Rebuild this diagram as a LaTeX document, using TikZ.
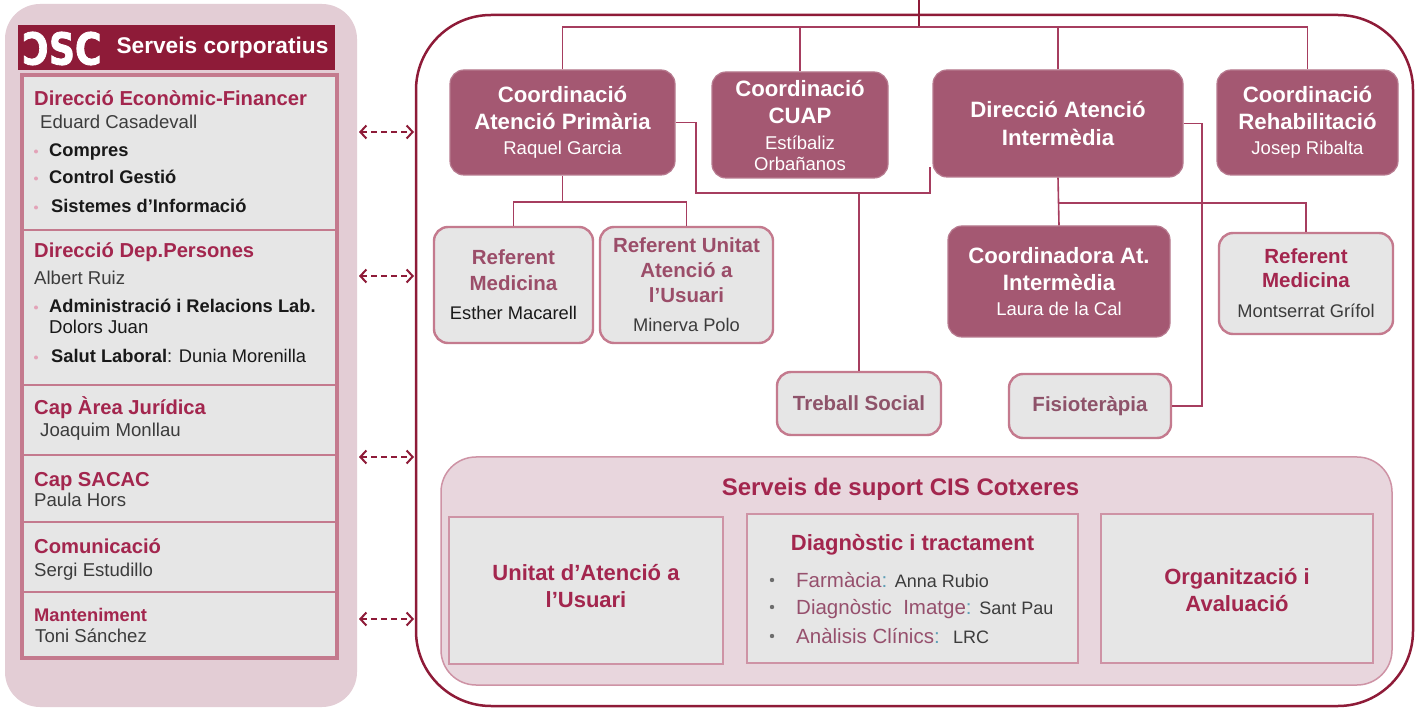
\documentclass[tikz,border=0pt]{standalone}
\usepackage{fontspec}
\usepackage{graphicx}
\setmainfont{Liberation Sans}
\newfontfamily\logofont{DejaVu Sans}[BoldFeatures={FakeBold=2}]
\usetikzlibrary{arrows.meta}
\definecolor{cDark}{HTML}{8E1B38}
\definecolor{cCrim}{HTML}{A3264E}
\definecolor{cMauve}{HTML}{A45872}
\definecolor{cMauveB}{HTML}{B77A8F}
\definecolor{cPinkBg}{HTML}{E3CDD5}
\definecolor{cPinkBgB}{HTML}{E8D6DD}
\definecolor{cGrey}{HTML}{E6E6E6}
\definecolor{cBord}{HTML}{C47A8E}
\definecolor{cBordL}{HTML}{CE93A5}
\definecolor{cConn}{HTML}{A63D5F}
\definecolor{cRefTxt}{HTML}{9B4D69}
\definecolor{cSoft}{HTML}{8E536A}
\definecolor{cName}{HTML}{3C3C3C}
\definecolor{cBul}{HTML}{E3A3B8}
\definecolor{cColon}{HTML}{5E9FB7}
\definecolor{cLab}{HTML}{96506D}
\newcommand\fsz[2]{\fontsize{#1}{#2}\selectfont}
\begin{document}
\begin{tikzpicture}[x=1pt,y=-1pt,
  dbox/.style={fill=cMauve, draw=cMauveB, line width=1.2pt, rounded corners=14pt, text=white, align=center, inner sep=0pt, font=\fsz{22.2}{27}},
  gbox/.style={fill=cGrey, draw=cBord, line width=2.4pt, rounded corners=14pt, align=center, inner sep=0pt, font=\fsz{20.5}{25}},
  sbox/.style={fill=cGrey, draw=cBordL, line width=1.5pt, inner sep=0pt},
  conn/.style={draw=cConn, line width=1.6pt},
  sepline/.style={draw=cBord, line width=1.3pt},
  dasharrow/.style={draw=cDark, line width=2pt, dash pattern=on 6pt off 4pt,
     arrows={Straight Barb[length=6pt,width=13pt,line width=2pt]-Straight Barb[length=6pt,width=13pt,line width=2pt]}},
  lh/.style={anchor=base west, inner sep=0pt, font=\bfseries\fsz{20.2}{24}, text=cCrim},
  ln/.style={anchor=base west, inner sep=0pt, font=\fsz{18.6}{22}, text=cName},
  li/.style={anchor=base west, inner sep=0pt, font=\bfseries\fsz{18.3}{22}, text=black!90},
  bul/.style={circle, fill=cBul, minimum size=4pt, inner sep=0pt},
  dbul/.style={circle, fill=cName!75, minimum size=4.4pt, inner sep=0pt},
  blab/.style={anchor=base west, inner sep=0pt, font=\fsz{20.5}{24}, text=cLab},
]
\fill[white] (0,0) rectangle (1425,708);
\useasboundingbox (0,0) rectangle (1425,708);

% ---------- left panel ----------
\node[fill=cPinkBg, rounded corners=35pt, minimum width=352, minimum height=703, inner sep=0pt] (lp) at (181,355.5) {};
\node[fill=cDark, minimum width=317, minimum height=45, inner sep=0pt] (hdr) at (176.5,47.5) {};
\node[font=\logofont\bfseries\fsz{44}{44}, text=white, inner sep=0pt] (logo) at (62,48.5) {\scalebox{0.82}[1]{ƆSC}};
\node[anchor=base, font=\bfseries\fsz{22.7}{25}, text=white, inner sep=0pt] (hdrt) at (222.5,53.5) {Serveis corporatius};
\node[fill=cGrey, draw=cBord, line width=3.5pt, minimum width=315, minimum height=583, inner sep=0pt] (inner) at (179.5,366.5) {};
\draw[sepline] (22,230) -- (337,230);
\draw[sepline] (22,385) -- (337,385);
\draw[sepline] (22,455) -- (337,455);
\draw[sepline] (22,522) -- (337,522);
\draw[sepline] (22,592) -- (337,592);

\node[lh] (h1) at (34,106) {Direcció Econòmic-Financer};
\node[ln] (n1) at (40,129) {Eduard Casadevall};
\node[bul] (b1) at (36,151.5) {};
\node[li] (i1) at (49,157) {Compres};
\node[bul] (b2) at (36,178.5) {};
\node[li] (i2) at (49,184) {Control Gestió};
\node[bul] (b3) at (36,207.5) {};
\node[li] (i3) at (51,213) {Sistemes d'Informació};

\node[lh] (h2) at (34,258) {Direcció Dep.Persones};
\node[ln] (n2) at (34,285) {Albert Ruiz};
\node[bul] (b4) at (36,307.5) {};
\node[li] (i4) at (49,313) {Administració i Relacions Lab.};
\node[ln, text=black!90] (n3) at (49,334) {Dolors Juan};
\node[bul] (b5) at (36,357.5) {};
\node[li] (i5) at (51,363) {Salut Laboral\mdseries: Dunia Morenilla};

\node[lh] (h3) at (34,415) {Cap Àrea Jurídica};
\node[ln] (n4) at (40,437) {Joaquim Monllau};
\node[lh] (h4) at (34,486) {Cap SACAC};
\node[ln] (n5) at (34,507) {Paula Hors};
\node[lh] (h5) at (34,553) {Comunicació};
\node[ln] (n6) at (34,576) {Sergi Estudillo};
\node[lh, font=\bfseries\fsz{18.3}{22}] (h6) at (34,621) {Manteniment};
\node[ln] (n7) at (35,642) {Toni Sánchez};

% ---------- main container ----------
\node[draw=cDark, line width=2.5pt, rounded corners=75pt, minimum width=997, minimum height=691, inner sep=0pt] (main) at (914.5,360.5) {};

% dashed arrows
\coordinate (a1l) at (359,132); \coordinate (a1r) at (414,132);
\coordinate (a2l) at (359,276); \coordinate (a2r) at (414,276);
\coordinate (a3l) at (359,457); \coordinate (a3r) at (414,457);
\coordinate (a4l) at (359,619); \coordinate (a4r) at (414,619);
\draw[dasharrow] (a1l) -- (a1r);
\draw[dasharrow] (a2l) -- (a2r);
\draw[dasharrow] (a3l) -- (a3r);
\draw[dasharrow] (a4l) -- (a4r);

% dark boxes
\node[dbox, minimum width=225, minimum height=105] (ap) at (562.5,122.5)
  {\bfseries Coordinació\\\bfseries Atenció Primària\\[-2pt]\mdseries\fsz{18.5}{22}Raquel Garcia};
\node[dbox, minimum width=176, minimum height=106] (cuap) at (800,125)
  {\bfseries Coordinació\\\bfseries CUAP\\[-1pt]\mdseries\fsz{18.5}{22}Estíbaliz\\[-6pt]\mdseries\fsz{18.5}{22}Orbañanos};
\node[dbox, minimum width=250, minimum height=107] (dai) at (1058,123.5)
  {\bfseries Direcció Atenció\\[1pt]\bfseries Intermèdia};
\node[dbox, minimum width=181, minimum height=105] (rehab) at (1307.5,122.5)
  {\bfseries Coordinació\\\bfseries Rehabilitació\\[-2pt]\mdseries\fsz{18.5}{22}Josep Ribalta};
\node[dbox, minimum width=222, minimum height=111] (coord) at (1059,281.5)
  {\bfseries Coordinadora At.\\\bfseries Intermèdia\\[-2pt]\mdseries\fsz{18.5}{22}Laura de la Cal};

% grey boxes
\node[gbox, minimum width=159, minimum height=116] (rm1) at (513.5,285)
  {\bfseries\color{cRefTxt}Referent\\[1pt]\bfseries\color{cRefTxt}Medicina\\[4pt]\mdseries\fsz{18.3}{22}\color{black!90}Esther Macarell};
\node[gbox, minimum width=173, minimum height=116] (ru) at (686.5,285)
  {\bfseries\color{cRefTxt}Referent Unitat\\\bfseries\color{cRefTxt}Atenció a\\\bfseries\color{cRefTxt}l'Usuari\\[4pt]\mdseries\fsz{18.3}{22}\color{cName}Minerva Polo};
\node[gbox, minimum width=174, minimum height=101] (rm2) at (1306,283.5)
  {\bfseries\color{cCrim}Referent\\[-1pt]\bfseries\color{cCrim}Medicina\\[5pt]\mdseries\fsz{18.3}{22}\color{cName}Montserrat Grífol};
\node[gbox, minimum width=164, minimum height=63] (ts) at (859,403.5)
  {\bfseries\color{cSoft}Treball Social};
\node[gbox, minimum width=162, minimum height=64] (fisio) at (1090,406)
  {\bfseries\color{cSoft}Fisioteràpia};

% connectors
\coordinate (top) at (919,0);
\coordinate (bus) at (919,27);
\draw[conn, draw=cDark] (top) -- (bus);
\draw[conn] (ap.north) -- (ap.north |- bus) -- (rehab.north |- bus) -- (rehab.north);
\draw[conn] (cuap.north) -- (cuap.north |- bus);
\draw[conn] (dai.north) -- (dai.north |- bus);

\coordinate (apj) at (696,193);
\coordinate (dail) at (930,167);
\draw[conn] (ap.east) -| (apj) -| (dail);
\draw[conn] (ts.north) -- (ts.north |- apj);

\coordinate (refbus) at (562,202);
\draw[conn] (ap.south) -- (ap.south |- refbus);
\draw[conn] (rm1.north) -- (rm1.north |- refbus) -- (ru.north |- refbus) -- (ru.north);

\coordinate (daibus) at (1059,203);
\draw[conn] (dai.south) -- (coord.north);
\draw[conn] (coord.north |- daibus) -| (rm2.north);

\coordinate (fj) at (1202,406);
\draw[conn] (dai.east) -| (fj) -- (fisio.east);

% ---------- support services ----------
\node[fill=cPinkBgB, draw=cBordL, line width=1.5pt, rounded corners=35pt, minimum width=951, minimum height=228, inner sep=0pt] (sup) at (916.5,571) {};
\node[anchor=base, inner sep=0pt, font=\bfseries\fsz{24}{28}, text=cCrim] (supt) at (900.5,495) {Serveis de suport CIS Cotxeres};
\node[sbox, minimum width=274, minimum height=147] (uau) at (586,590.5) {};
\node[sbox, minimum width=331, minimum height=149] (diag) at (912.5,588.5) {};
\node[sbox, minimum width=272, minimum height=149] (org) at (1237,588.5) {};

\node[align=center, inner sep=0pt, font=\bfseries\fsz{22}{27}, text=cCrim] (uaut) at (586,586) {Unitat d'Atenció a\\l'Usuari};
\node[align=center, inner sep=0pt, font=\bfseries\fsz{22}{27}, text=cCrim] (orgt) at (1237,590) {Organització i\\Avaluació};
\node[anchor=base, inner sep=0pt, font=\bfseries\fsz{22}{27}, text=cCrim] (diagt) at (912.5,550) {Diagnòstic i tractament};
\node[dbul] (d1) at (772,580) {};
\node[blab] (l1) at (796,587) {Farmàcia\color{cColon}: \color{cName}\fsz{18}{22}Anna Rubio};
\node[dbul] (d2) at (772,607) {};
\node[blab] (l2) at (796,614) {Diagnòstic\ \ Imatge\color{cColon}: \color{cName}\fsz{18}{22}Sant Pau};
\node[dbul] (d3) at (772,636) {};
\node[blab] (l3) at (796,643) {Anàlisis Clínics\color{cColon}: \ \color{cName}\fsz{18}{22}LRC};
\end{tikzpicture}
\end{document}
